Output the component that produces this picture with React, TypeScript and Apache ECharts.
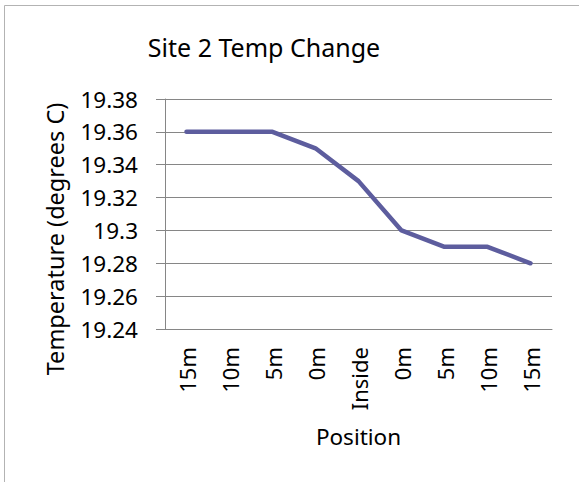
import React, { useEffect, useRef } from "react";
import * as echarts from "echarts";

const categories = ["15m", "10m", "5m", "0m", "Inside", "0m", "5m", "10m", "15m"];
const temps = [19.36, 19.36, 19.36, 19.35, 19.33, 19.3, 19.29, 19.29, 19.28];
const yMin = 19.24;
const yMax = 19.38;
const yStep = 0.02;
const titleText = "Site 2 Temp Change";
const xName = "Position";
const yName = "Temperature (degrees C)";

const FONT = "Noto Sans";

export default function App() {
  const ref = useRef<HTMLDivElement>(null);
  useEffect(() => {
    if (!ref.current) return;
    const chart = echarts.init(ref.current, undefined, { renderer: "svg" });
    chart.setOption({
      animation: false,
      backgroundColor: "#ffffff",
      textStyle: { fontFamily: FONT },
      graphic: [
        {
          type: "rect",
          shape: { x: 4.5, y: 5.5, width: 700, height: 700 },
          style: { fill: "none", stroke: "#b3b3b3", lineWidth: 1 },
          silent: true,
        },
        {
          type: "text",
          x: 264,
          y: 47,
          style: {
            text: titleText,
            fontFamily: FONT,
            fontSize: 25,
            fill: "#000000",
            textAlign: "center",
            textVerticalAlign: "middle",
          },
        },
        {
          type: "text",
          x: 55,
          y: 239,
          rotation: Math.PI / 2,
          style: {
            text: yName,
            fontFamily: FONT,
            fontSize: 23.5,
            fill: "#000000",
            textAlign: "center",
            textVerticalAlign: "middle",
          },
        },
      ],
      grid: { left: 165, right: 27, top: 99, bottom: 153, containLabel: false },
      xAxis: {
        type: "category",
        data: categories,
        boundaryGap: true,
        name: xName,
        nameLocation: "middle",
        nameGap: 96,
        nameTextStyle: { fontFamily: FONT, fontSize: 22.5, color: "#000" },
        axisLine: { lineStyle: { color: "#868686", width: 1 } },
        axisTick: { show: false },
        axisLabel: {
          rotate: 90,
          margin: 18,
          interval: 0,
          fontFamily: FONT,
          fontSize: 22,
          color: "#000",
        },
        splitLine: { show: false },
      },
      yAxis: {
        type: "value",
        min: yMin,
        max: yMax,
        interval: yStep,
        axisLine: { show: true, lineStyle: { color: "#868686", width: 1 } },
        axisTick: { show: true, length: 9, lineStyle: { color: "#868686" } },
        axisLabel: {
          margin: 27,
          fontFamily: FONT,
          fontSize: 22.5,
          color: "#000",
          formatter: (v: number) => String(+v.toFixed(2)),
        },
        splitLine: { show: true, lineStyle: { color: "#868686", width: 1 } },
      },
      series: [
        {
          type: "line",
          data: temps,
          symbol: "none",
          lineStyle: { color: "#5d5d9e", width: 4.5, cap: "round", join: "round" },
          itemStyle: { color: "#5d5d9e" },
        },
      ],
    });
    return () => chart.dispose();
  }, []);
  return (
    <div
      ref={ref}
      style={{ position: "fixed", left: 0, top: 0, width: 579, height: 482 }}
    />
  );
}
